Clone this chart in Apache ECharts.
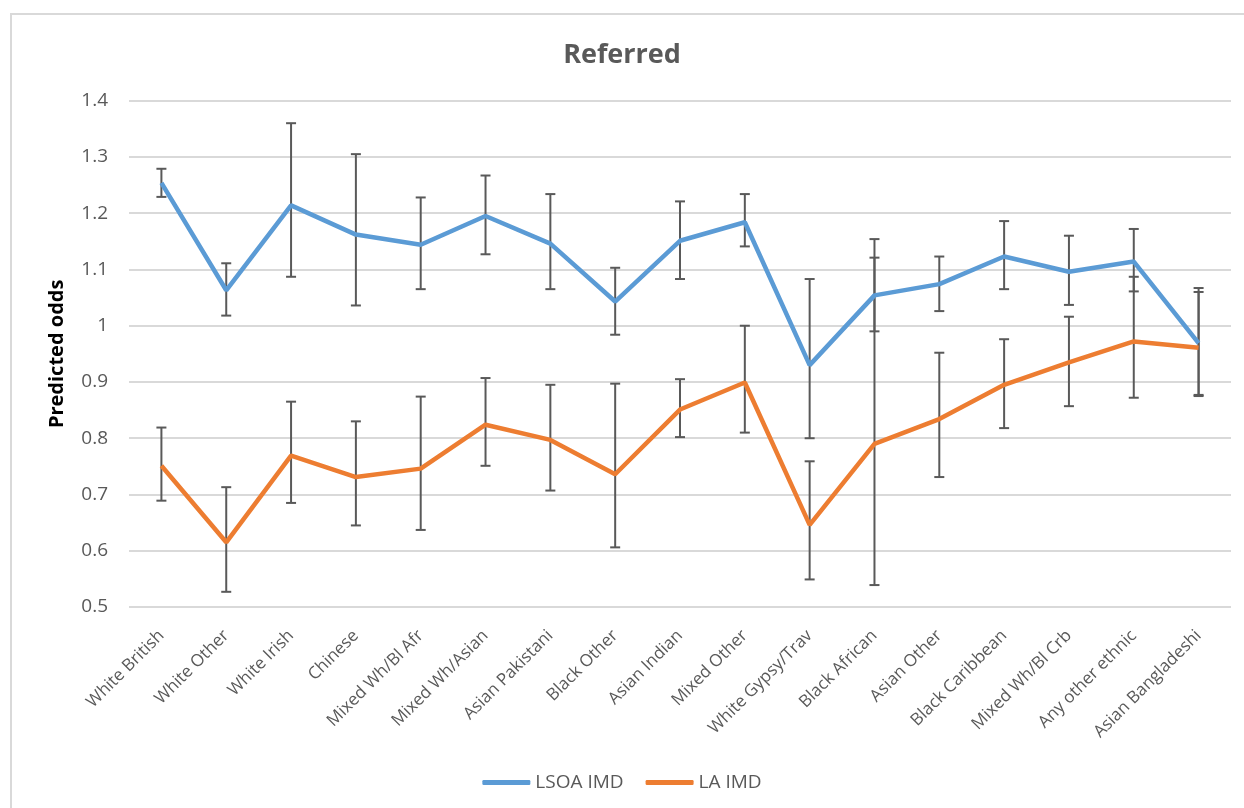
<!DOCTYPE html>
<html>
<head>
<meta charset="utf-8">
<script src="https://cdn.jsdelivr.net/npm/echarts@6/dist/echarts.min.js"></script>
<style>
  html, body { margin: 0; padding: 0; background: #fff; }
  #chart { width: 1244px; height: 808px; }
</style>
</head>
<body>
<div id="chart"></div>
<script>
var categories = ['White British', 'White Other', 'White Irish', 'Chinese', 'Mixed Wh/Bl Afr',
    'Mixed Wh/Asian', 'Asian Pakistani', 'Black Other', 'Asian Indian', 'Mixed Other',
    'White Gypsy/Trav', 'Black African', 'Asian Other', 'Black Caribbean', 'Mixed Wh/Bl Crb',
    'Any other ethnic', 'Asian Bangladeshi'];

// LSOA IMD: predicted odds and CI
var lsoa     = [1.254, 1.063, 1.214, 1.162, 1.144, 1.195, 1.146, 1.043, 1.151, 1.184, 0.930, 1.054, 1.074, 1.123, 1.096, 1.114, 0.969];
var lsoaLow  = [1.229, 1.018, 1.087, 1.036, 1.065, 1.127, 1.065, 0.984, 1.083, 1.141, 0.800, 0.990, 1.026, 1.065, 1.037, 1.061, 0.877];
var lsoaHigh = [1.279, 1.111, 1.360, 1.305, 1.228, 1.267, 1.234, 1.103, 1.221, 1.234, 1.083, 1.121, 1.123, 1.186, 1.160, 1.172, 1.067];

// LA IMD: predicted odds and CI
var la     = [0.751, 0.615, 0.769, 0.731, 0.746, 0.824, 0.797, 0.736, 0.851, 0.899, 0.646, 0.790, 0.834, 0.895, 0.935, 0.972, 0.961];
var laLow  = [0.689, 0.527, 0.685, 0.645, 0.637, 0.751, 0.707, 0.606, 0.802, 0.810, 0.549, 0.539, 0.731, 0.818, 0.857, 0.872, 0.875];
var laHigh = [0.819, 0.713, 0.865, 0.830, 0.874, 0.907, 0.895, 0.897, 0.905, 1.000, 0.759, 1.154, 0.952, 0.976, 1.016, 1.087, 1.060];

var font = '"Open Sans", "DejaVu Sans", sans-serif';

function ciData(lo, hi) {
    var out = [];
    for (var i = 0; i < categories.length; i++) {
        out.push([i, lo[i], hi[i]]);
    }
    return out;
}

function renderErrorBar(params, api) {
    var top = api.coord([api.value(0), api.value(2)]);
    var bot = api.coord([api.value(0), api.value(1)]);
    var half = 5;
    var style = { stroke: '#595959', lineWidth: 2 };
    return {
        type: 'group',
        children: [
            { type: 'line', shape: { x1: top[0], y1: top[1], x2: bot[0], y2: bot[1] }, style: style },
            { type: 'line', shape: { x1: top[0] - half, y1: top[1], x2: top[0] + half, y2: top[1] }, style: style },
            { type: 'line', shape: { x1: bot[0] - half, y1: bot[1], x2: bot[0] + half, y2: bot[1] }, style: style }
        ]
    };
}

var chart = echarts.init(document.getElementById('chart'));

var option = {
    animation: false,
    backgroundColor: '#fff',
    graphic: [{
        type: 'rect',
        shape: { x: 11, y: 14, width: 1300, height: 900 },
        style: { fill: 'none', stroke: '#d9d9d9', lineWidth: 2 },
        silent: true
    }],
    title: {
        text: 'Referred',
        left: 'center',
        top: 37,
        textStyle: { fontFamily: font, fontSize: 27, fontWeight: 'bold', color: '#595959' }
    },
    legend: {
        data: ['LSOA IMD', 'LA IMD'],
        left: 'center',
        top: 768,
        icon: 'roundRect',
        itemWidth: 48,
        itemHeight: 5,
        itemGap: 22,
        textStyle: { fontFamily: font, fontSize: 19, color: '#595959' }
    },
    grid: { left: 129, right: 13, top: 100.7, bottom: 201, containLabel: false },
    xAxis: {
        type: 'category',
        data: categories,
        boundaryGap: true,
        axisLine: { show: false },
        axisTick: { show: false },
        axisLabel: {
            rotate: 45,
            interval: 0,
            margin: 26,
            fontFamily: font,
            fontSize: 17,
            color: '#595959'
        }
    },
    yAxis: {
        type: 'value',
        min: 0.5,
        max: 1.4,
        interval: 0.1,
        name: 'Predicted odds',
        nameLocation: 'middle',
        nameGap: 62,
        nameRotate: 90,
        nameTextStyle: { fontFamily: font, fontSize: 20, fontWeight: 'bold', color: '#000' },
        axisLine: { show: false },
        axisTick: { show: false },
        axisLabel: {
            margin: 21,
            fontFamily: font,
            fontSize: 19,
            color: '#595959',
            formatter: function (v) { return String(+v.toFixed(1)); }
        },
        splitLine: { lineStyle: { color: '#d9d9d9', width: 2 } }
    },
    series: [
        {
            name: 'LSOA CI',
            type: 'custom',
            renderItem: renderErrorBar,
            data: ciData(lsoaLow, lsoaHigh),
            encode: { x: 0, y: [1, 2] },
            z: 1
        },
        {
            name: 'LA CI',
            type: 'custom',
            renderItem: renderErrorBar,
            data: ciData(laLow, laHigh),
            encode: { x: 0, y: [1, 2] },
            z: 1
        },
        {
            name: 'LSOA IMD',
            type: 'line',
            data: lsoa,
            symbol: 'none',
            color: '#5B9BD5',
            lineStyle: { color: '#5B9BD5', width: 4.5 },
            z: 3
        },
        {
            name: 'LA IMD',
            type: 'line',
            data: la,
            symbol: 'none',
            color: '#ED7D31',
            lineStyle: { color: '#ED7D31', width: 4.5 },
            z: 3
        }
    ]
};

chart.setOption(option);
</script>
</body>
</html>
